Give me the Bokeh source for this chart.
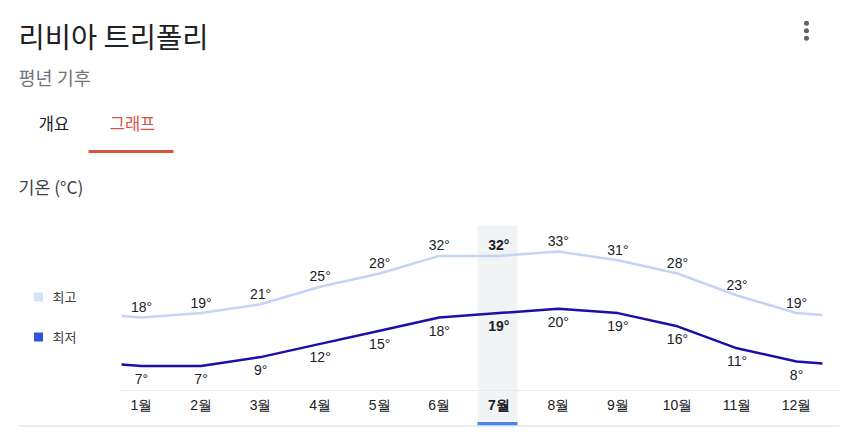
import numpy as np
from bokeh.plotting import figure
from bokeh.models import Range1d, ColumnDataSource
from bokeh.core.properties import value
from bokeh.embed import file_html
from bokeh.resources import INLINE

# ---- data ----
months = ["1월", "2월", "3월", "4월", "5월", "6월", "7월", "8월", "9월", "10월", "11월", "12월"]
high = [18, 19, 21, 25, 28, 32, 32, 33, 31, 28, 23, 19]
low = [7, 7, 9, 12, 15, 18, 19, 20, 19, 16, 11, 8]
highlight_month = 7
title = "리비아 트리폴리"
subtitle = "평년 기후"
tabs = ["개요", "그래프"]
axis_title = "기온 (°C)"
legend_labels = ["최고", "최저"]

# ---- layout helpers (pixel -> data) ----
W, H = 850, 439
X0, DX = 141.0, 59.55
Y0, T0, K = 317.0, 18.0, 4.4


def xd(px):
    return 1 + (px - X0) / DX


def yd(py):
    return T0 - (py - Y0) / K


HIGH_C = "#c3d4f7"
LOW_C = "#1c0fa9"
TXT = "#202124"
KR = value("Noto Sans CJK KR")
AR = value("Liberation Sans")

p = figure(width=W, height=H, x_range=Range1d(xd(0), xd(W)), y_range=Range1d(yd(H), yd(0)),
           output_backend="svg", toolbar_location=None, min_border=0,
           x_axis_location=None, y_axis_location=None, outline_line_color=None)
p.grid.visible = False
p.background_fill_color = "white"
p.border_fill_color = "white"

mx = list(range(1, len(months) + 1))

# highlight column
p.quad(left=[xd(477)], right=[xd(517)], bottom=[yd(421)], top=[yd(225)],
       fill_color="#f1f3f4", line_color=None)
p.quad(left=[xd(477)], right=[xd(517)], bottom=[yd(425)], top=[yd(421.5)],
       fill_color="#4a84ee", line_color=None)

# separators
p.segment(x0=[xd(121)], x1=[xd(839)], y0=[yd(390)], y1=[yd(390)], line_color="#e8eaed", line_width=1)
p.segment(x0=[xd(18)], x1=[xd(839)], y0=[yd(425.5)], y1=[yd(425.5)], line_color="#dadce0", line_width=1)

# lines, with wrap-around ends
xl, xr = xd(121), xd(822)


def ext(vals):
    yl = np.interp(xl, [0, 1], [vals[-1], vals[0]])
    yr = np.interp(xr, [12, 13], [vals[-1], vals[0]])
    return [xl] + mx + [xr], [yl] + list(vals) + [yr]


hx, hy = ext(high)
lx, ly = ext(low)
p.line(hx, hy, line_color=HIGH_C, line_width=2.5, line_join="round")
p.line(lx, ly, line_color=LOW_C, line_width=2.5, line_join="round")

styles = ["bold" if m == highlight_month else "normal" for m in mx]
src = ColumnDataSource(dict(
    x=mx,
    hy=[h + 10.5 / K for h in high],
    ly=[l - 13 / K for l in low],
    ht=[f"{h}°" for h in high],
    lt=[f"{l}°" for l in low],
    mt=months,
    my=[yd(404)] * len(months),
    st=styles,
))
p.text(x="x", y="hy", text="ht", source=src, text_font=AR, text_font_size="14px",
       text_font_style="st", text_color=TXT, text_align="center", text_baseline="middle")
p.text(x="x", y="ly", text="lt", source=src, text_font=AR, text_font_size="14px",
       text_font_style="st", text_color=TXT, text_align="center", text_baseline="middle")
p.text(x="x", y="my", text="mt", source=src, text_font=AR, text_font_size="14px",
       text_font_style="st", text_color=TXT, text_align="center", text_baseline="middle")

# headers
p.text(x=[xd(18)], y=[yd(35)], text=[title], text_font=KR, text_font_size="28.5px",
       text_color=TXT, text_align="left", text_baseline="middle")
p.text(x=[xd(18)], y=[yd(76)], text=[subtitle], text_font=KR, text_font_size="18.5px",
       text_color="#70757a", text_align="left", text_baseline="middle")
p.text(x=[xd(53.5)], y=[yd(122)], text=[tabs[0]], text_font=KR, text_font_size="16.5px",
       text_color=TXT, text_align="center", text_baseline="middle")
p.text(x=[xd(132)], y=[yd(122)], text=[tabs[1]], text_font=KR, text_font_size="16.5px",
       text_color="#d7553f", text_align="center", text_baseline="middle")
p.quad(left=[xd(88)], right=[xd(173)], bottom=[yd(152.5)], top=[yd(149.5)],
       fill_color="#d7553f", line_color=None)
p.text(x=[xd(18)], y=[yd(186)], text=[axis_title], text_font=KR, text_font_size="17.3px",
       text_color="#3c4043", text_align="left", text_baseline="middle")

# menu dots
p.scatter(x=[xd(806)] * 3, y=[yd(22.7), yd(30.3), yd(37.7)], marker="circle", size=5,
          fill_color="#5f6368", line_color=None)

# legend
p.scatter(x=[xd(38)], y=[yd(296.5)], marker="square", size=9, fill_color="#d2e3fc", line_color=None)
p.scatter(x=[xd(38)], y=[yd(336.5)], marker="square", size=9, fill_color="#2d57d8", line_color=None)
p.text(x=[xd(52)] * 2, y=[yd(296), yd(336)], text=legend_labels, text_font=KR, text_font_size="13px",
       text_color="#3c4043", text_align="left", text_baseline="middle")

open("out.html", "w").write(file_html(p, INLINE))
